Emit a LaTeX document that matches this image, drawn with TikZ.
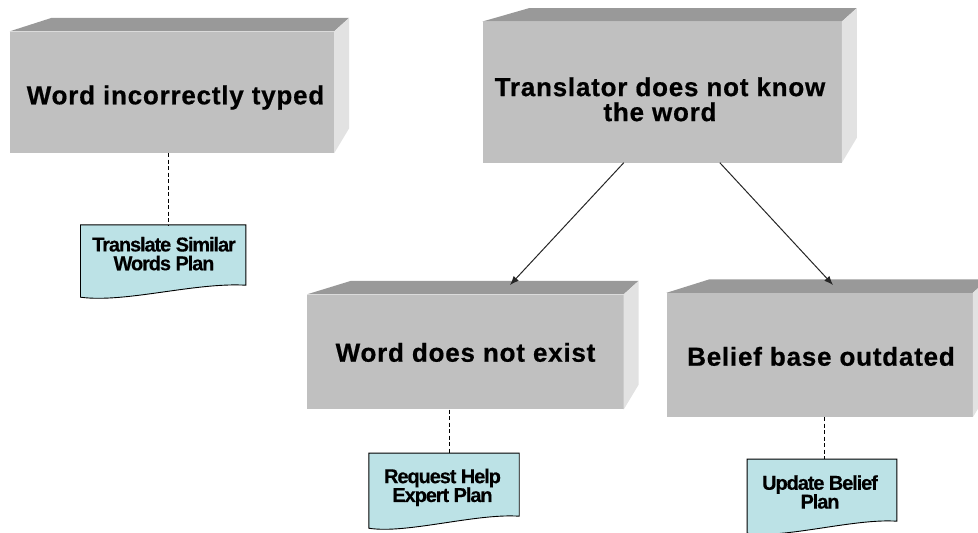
\documentclass[tikz,border=0pt]{standalone}
\usepackage{fontspec}
\setmainfont{Liberation Sans}
\usetikzlibrary{calc,arrows.meta}
\definecolor{frontgray}{HTML}{C0C0C0}
\definecolor{topgray}{HTML}{999999}
\definecolor{sidegray}{HTML}{E2E2E2}
\definecolor{planfill}{HTML}{BCE2E6}
\newcommand\cubefaces[2]{%
  \fill[topgray] (#1.north west) -- ($(#1.north west)+(#2,-13.5)$) -- ($(#1.north east)+(15,-13.5)$) -- (#1.north east) -- cycle;
  \fill[sidegray] (#1.north east) -- ($(#1.north east)+(15,-13.5)$) -- ($(#1.south east)+(15,-25)$) -- (#1.south east) -- cycle;
}
\newcommand\docoutline[1]{%
  \filldraw[planline] (#1.north west) -- (#1.north east) -- ($(#1.south east)+(0,-12)$)
    .. controls ($(#1.south)+(31.8,-15)$) and ($(#1.south)+(-38.2,6)$) .. (#1.south west) -- cycle;
}
\begin{document}
\begin{tikzpicture}[x=1pt,y=-1pt,
  cubefront/.style={rectangle, fill=frontgray, draw=none, inner sep=0pt},
  cubetext/.style={font=\fontsize{26}{25}\selectfont\bfseries\addfontfeature{LetterSpace=3,FakeBold=0.6}, align=center, inner sep=0pt},
  planbox/.style={rectangle, draw=none, inner sep=0pt},
  planline/.style={fill=planfill, draw=black, line width=0.9pt},
  plantext/.style={font=\fontsize{20}{18.8}\selectfont\bfseries\addfontfeature{LetterSpace=-5.5,FakeBold=0.4}, align=center, inner sep=0pt},
  dashline/.style={draw=black, line width=1pt, dash pattern=on 4pt off 2.5pt},
  arrowline/.style={draw=black!85, line width=1pt, -{Latex[length=9pt,width=7pt]}}
]
\useasboundingbox (0,0) rectangle (978,533);
\clip (0,0) rectangle (978,533);

% cubes
\node[cubefront, minimum width=324pt, minimum height=121.5pt] (b1) at (172,92.25) {};
\node[cubefront, minimum width=359pt, minimum height=140.8pt] (b2) at (662.2,92.1) {};
\node[cubefront, minimum width=316.2pt, minimum height=114.8pt] (b3) at (465.4,351.9) {};
\node[cubefront, minimum width=306pt, minimum height=124pt] (b4) at (819.7,355) {};
\cubefaces{b1}{42}
\cubefaces{b2}{47}
\cubefaces{b3}{44}
\cubefaces{b4}{43}

\node[cubetext, anchor=base] (t1) at (175.5,104.3) {Word incorrectly typed};
\node[cubetext, anchor=center] (t2) at (660,99.3) {Translator does not know\\the word};
\node[cubetext, anchor=base] (t3) at (465.5,361.7) {Word does not exist};
\node[cubetext, anchor=base] (t4) at (821,365.7) {Belief base outdated};

% plans
\node[planbox, minimum width=165pt, minimum height=72pt] (p1) at (163.2,261) {};
\node[planbox, minimum width=150pt, minimum height=74.7pt] (p2) at (444,490.65) {};
\node[planbox, minimum width=149.4pt, minimum height=73.7pt] (p3) at (822,496.15) {};
\docoutline{p1}
\docoutline{p2}
\docoutline{p3}
\node[plantext] (p1t) at (164,253.7) {Translate Similar\\Words Plan};
\node[plantext] (p2t) at (442.5,487.4) {Request Help\\Expert Plan};
\node[plantext] (p3t) at (820,492) {Update Belief\\Plan};

% dashed links
\coordinate (d1) at (168.3,0);
\coordinate (d2) at (449,0);
\coordinate (d3) at (824,0);
\draw[dashline] (b1.south -| d1) -- (p1.north -| d1);
\draw[dashline] (b3.south -| d2) -- (p2.north -| d2);
\draw[dashline] (b4.south -| d3) -- (p3.north -| d3);

% arrows
\coordinate (e1) at (510,285);
\coordinate (e2) at (833,285);
\draw[arrowline] ($(b2.south west)+(141.3,0)$) -- (e1);
\draw[arrowline] ($(b2.south west)+(237.3,0)$) -- (e2);
\end{tikzpicture}
\end{document}
